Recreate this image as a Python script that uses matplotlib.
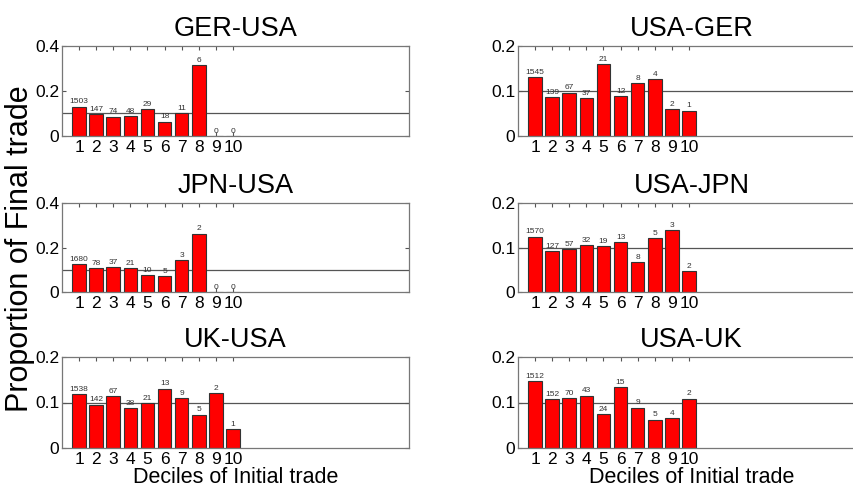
import numpy as np
import matplotlib
matplotlib.use("Agg")
import matplotlib.pyplot as plt

plt.rcParams['font.family'] = ['Liberation Sans', 'DejaVu Sans']

deciles = np.arange(1, 11)

titles = ["GER-USA", "USA-GER", "JPN-USA", "USA-JPN", "UK-USA", "USA-UK"]

ger_usa = [0.130, 0.098, 0.086, 0.089, 0.120, 0.064, 0.102, 0.315, 0.0, 0.0]
usa_ger = [0.130, 0.086, 0.096, 0.084, 0.159, 0.089, 0.117, 0.126, 0.059, 0.056]
jpn_usa = [0.124, 0.106, 0.112, 0.106, 0.076, 0.070, 0.142, 0.262, 0.0, 0.0]
usa_jpn = [0.124, 0.092, 0.096, 0.105, 0.103, 0.112, 0.067, 0.121, 0.139, 0.047]
uk_usa = [0.118, 0.095, 0.114, 0.087, 0.098, 0.130, 0.109, 0.073, 0.120, 0.042]
usa_uk = [0.147, 0.107, 0.109, 0.115, 0.074, 0.133, 0.089, 0.062, 0.066, 0.108]

ger_usa_n = [1503, 147, 74, 48, 29, 18, 11, 6, 0, 0]
usa_ger_n = [1545, 139, 67, 37, 21, 12, 8, 4, 2, 1]
jpn_usa_n = [1680, 78, 37, 21, 10, 5, 3, 2, 0, 0]
usa_jpn_n = [1570, 127, 57, 32, 19, 13, 8, 5, 3, 2]
uk_usa_n = [1538, 142, 67, 38, 21, 13, 9, 5, 2, 1]
usa_uk_n = [1512, 152, 70, 43, 24, 15, 9, 5, 4, 2]

values = [ger_usa, usa_ger, jpn_usa, usa_jpn, uk_usa, usa_uk]
counts = [ger_usa_n, usa_ger_n, jpn_usa_n, usa_jpn_n, uk_usa_n, usa_uk_n]
ymax = [0.4, 0.2, 0.4, 0.2, 0.2, 0.2]

W, H = 854, 487
fig = plt.figure(figsize=(W / 100, H / 100), dpi=100)

# axes boxes in pixels (left, top, right, bottom)
lefts = [62, 518]
rows = [(46, 136), (203, 292), (357, 448)]
width_px = 347

for i in range(6):
    r, c = divmod(i, 2)
    top, bot = rows[r]
    ax = fig.add_axes([lefts[c] / W, 1 - bot / H, width_px / W, (bot - top) / H])
    ax.bar(deciles, values[i], width=0.8, color='#ff0000', edgecolor='#333333', linewidth=0.8, zorder=2)
    ax.axhline(0.1, color='#555555', linewidth=0.9, zorder=1)
    for x, v, n in zip(deciles, values[i], counts[i]):
        ax.text(x, v + ymax[i] * 0.015, str(n), ha='center', va='bottom', fontsize=6, color='#333333')
    ax.set_xlim(0, 20.3)
    ax.set_ylim(0, ymax[i])
    ax.set_xticks(deciles)
    ax.set_yticks([0, ymax[i] / 2, ymax[i]])
    ax.set_yticklabels(["0", f"{ymax[i] / 2:g}", f"{ymax[i]:g}"])
    ax.tick_params(direction='in', length=3, top=True, right=True, labelsize=12.5,
                   color='#555555', pad=2)
    ax.tick_params(axis='x', pad=3, labelsize=12.5)
    for s in ax.spines.values():
        s.set_color('#777777')
        s.set_linewidth(0.9)
    ax.set_title(titles[i], fontsize=19.5, pad=7)
    if r == 2:
        ax.set_xlabel("Deciles of Initial trade", fontsize=15.5, labelpad=0)

fig.text(20 / W, 0.49, "Proportion of Final trade", rotation=90, ha='center', va='center', fontsize=22)

fig.savefig("out.png", dpi=100)
